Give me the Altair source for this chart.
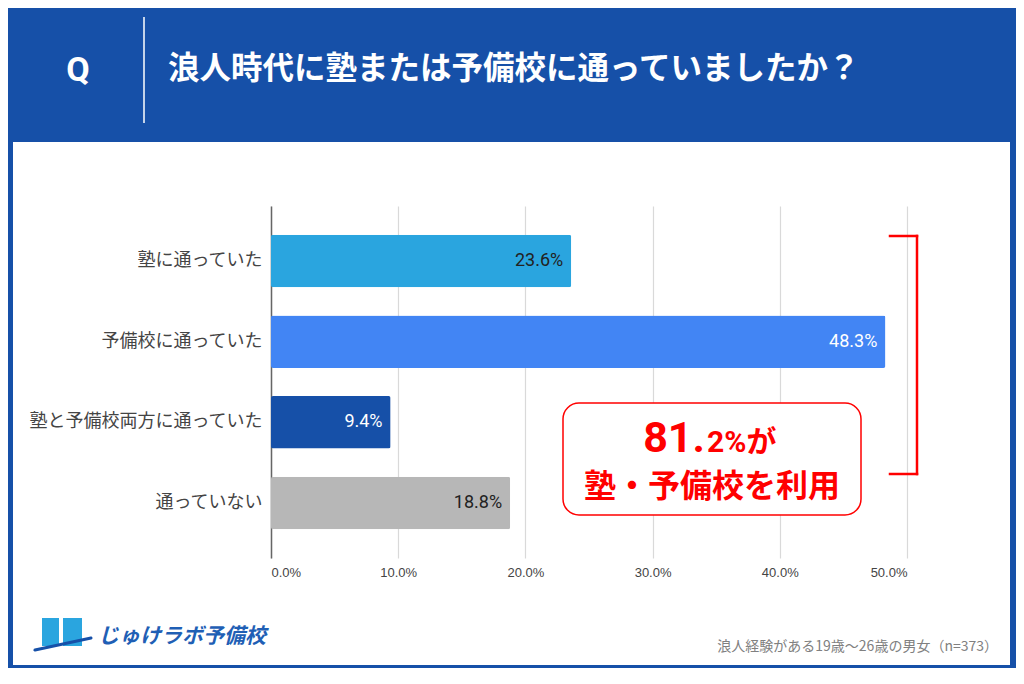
import altair as alt
import pandas as pd

# ---- data ----
categories = ["塾に通っていた", "予備校に通っていた", "塾と予備校両方に通っていた", "通っていない"]
values = [23.6, 48.3, 9.4, 18.8]
x_ticks = [0, 10, 20, 30, 40, 50]
bar_colors = ["#2aa5df", "#4285f4", "#1650a8", "#b7b7b7"]

title_text = "浪人時代に塾または予備校に通っていましたか？"
q_text = "Q"
callout_big = "81."
callout_small = "2%が"
callout_line2 = "塾・予備校を利用"
logo_text = "じゅけラボ予備校"
note_text = "浪人経験がある19歳～26歳の男女（n=373）"

df = pd.DataFrame({"category": categories, "value": values})

BLUE = "#1650a8"
RED = "#ff0000"
JP = "Noto Sans CJK JP"
one = pd.DataFrame({"a": [0]})


def deco():
    return alt.Chart(one)


base = alt.Chart(df)

bars = base.mark_bar(cornerRadius=2).encode(
    y=alt.Y(
        "category:N",
        sort=categories,
        scale=alt.Scale(paddingInner=0.35, paddingOuter=0.356),
        axis=alt.Axis(
            title=None, ticks=False, grid=False, domainColor="#666666", domainWidth=1.5,
            labelFont=JP, labelFontSize=18, labelColor="#444444", labelPadding=9, labelLimit=0,
        ),
    ),
    x=alt.X(
        "value:Q",
        scale=alt.Scale(domain=[0, 50], nice=False),
        axis=alt.Axis(
            title=None, values=x_ticks, domain=False, ticks=False, tickSize=0,
            labelExpr="format(datum.value, '.1f') + '%'",
            labelFont="Liberation Sans", labelFontSize=13, labelColor="#444444",
            labelPadding=8, gridColor="#d9d9d9", gridWidth=1.2,
        ),
    ),
    color=alt.Color("category:N", scale=alt.Scale(domain=categories, range=bar_colors), legend=None),
)

labels = base.transform_calculate(lbl="format(datum.value, '.1f') + '%'").mark_text(
    align="right", baseline="middle", dx=-8, fontSize=18, font="Roboto"
).encode(
    y=alt.Y("category:N", sort=categories),
    x=alt.X("value:Q"),
    text="lbl:N",
    color=alt.condition(
        alt.FieldOneOfPredicate(field="category", oneOf=[categories[1], categories[2]]),
        alt.value("white"), alt.value("#222222"),
    ),
)

# frame (blue) around the white panel
frame_top = deco().mark_rect(color=BLUE).encode(x=alt.value(-271), x2=alt.value(753), y=alt.value(-206), y2=alt.value(-64))
frame_left = deco().mark_rect(color=BLUE).encode(x=alt.value(-271), x2=alt.value(-258), y=alt.value(-64), y2=alt.value(478))
frame_right = deco().mark_rect(color=BLUE).encode(x=alt.value(739), x2=alt.value(753), y=alt.value(-64), y2=alt.value(478))
frame_bottom = deco().mark_rect(color=BLUE).encode(x=alt.value(-271), x2=alt.value(753), y=alt.value(459), y2=alt.value(478))

q_mark = deco().mark_text(text=q_text, font="Roboto", fontSize=34, fontWeight="bold", color="white",
                          align="center", baseline="middle").encode(x=alt.value(-193), y=alt.value(-135))
sep = deco().mark_rule(color="white", strokeWidth=1.5).encode(x=alt.value(-127), y=alt.value(-189), y2=alt.value(-83))
title_mark = deco().mark_text(text=title_text, font=JP, fontSize=31.5, fontWeight="bold", color="white",
                              align="left", baseline="middle").encode(x=alt.value(-103), y=alt.value(-136))

# bracket
br_top = deco().mark_rule(color=RED, strokeWidth=2.5, strokeCap="square").encode(x=alt.value(619), x2=alt.value(646), y=alt.value(30))
br_vert = deco().mark_rule(color=RED, strokeWidth=2.5, strokeCap="square").encode(x=alt.value(646), y=alt.value(30), y2=alt.value(268))
br_bot = deco().mark_rule(color=RED, strokeWidth=2.5, strokeCap="square").encode(x=alt.value(619), x2=alt.value(646), y=alt.value(268))

# callout box
box = deco().mark_rect(fill="white", stroke=RED, strokeWidth=1.5, cornerRadius=16).encode(
    x=alt.value(292), x2=alt.value(590), y=alt.value(197), y2=alt.value(309))
c_big = deco().mark_text(text=callout_big, font="Roboto", fontSize=43, fontWeight="bold", color=RED,
                         align="right", baseline="alphabetic").encode(x=alt.value(434), y=alt.value(246))
c_small = deco().mark_text(text=callout_small, font="Roboto, " + JP, fontSize=30, fontWeight="bold", color=RED,
                           align="left", baseline="alphabetic").encode(x=alt.value(436), y=alt.value(246))
c_line2 = deco().mark_text(text=callout_line2, font=JP, fontSize=32, fontWeight="bold", color=RED,
                           align="center", baseline="middle").encode(x=alt.value(441), y=alt.value(281))

# logo
logo_b1 = deco().mark_rect(color="#2aa5df").encode(x=alt.value(-229), x2=alt.value(-212), y=alt.value(412), y2=alt.value(440))
logo_b2 = deco().mark_rect(color="#2aa5df").encode(x=alt.value(-208), x2=alt.value(-189), y=alt.value(412), y2=alt.value(440))
logo_sw = deco().mark_rule(color=BLUE, strokeWidth=3, strokeCap="round").encode(
    x=alt.value(-236), y=alt.value(444), x2=alt.value(-180), y2=alt.value(432))
logo_t = deco().mark_text(text=logo_text, font=JP, fontSize=21, fontWeight="bold", fontStyle="italic",
                          color="#1f5fb5", align="left", baseline="middle").encode(x=alt.value(-173), y=alt.value(431))

note = deco().mark_text(text=note_text, font=JP, fontSize=14, color="#808080",
                        align="right", baseline="middle").encode(x=alt.value(727), y=alt.value(441))

chart = alt.layer(
    bars, labels,
    frame_top, frame_left, frame_right, frame_bottom,
    q_mark, sep, title_mark,
    br_top, br_vert, br_bot,
    box, c_big, c_small, c_line2,
    logo_b1, logo_b2, logo_sw, logo_t, note,
).properties(
    width=636, height=352,
    padding={"left": 263, "top": 198, "right": 109, "bottom": 110},
    autosize=alt.AutoSizeParams(type="none"),
    background="white",
).configure_view(stroke=None)

chart.save("out.html", embed_options={"renderer": "svg", "actions": False})
